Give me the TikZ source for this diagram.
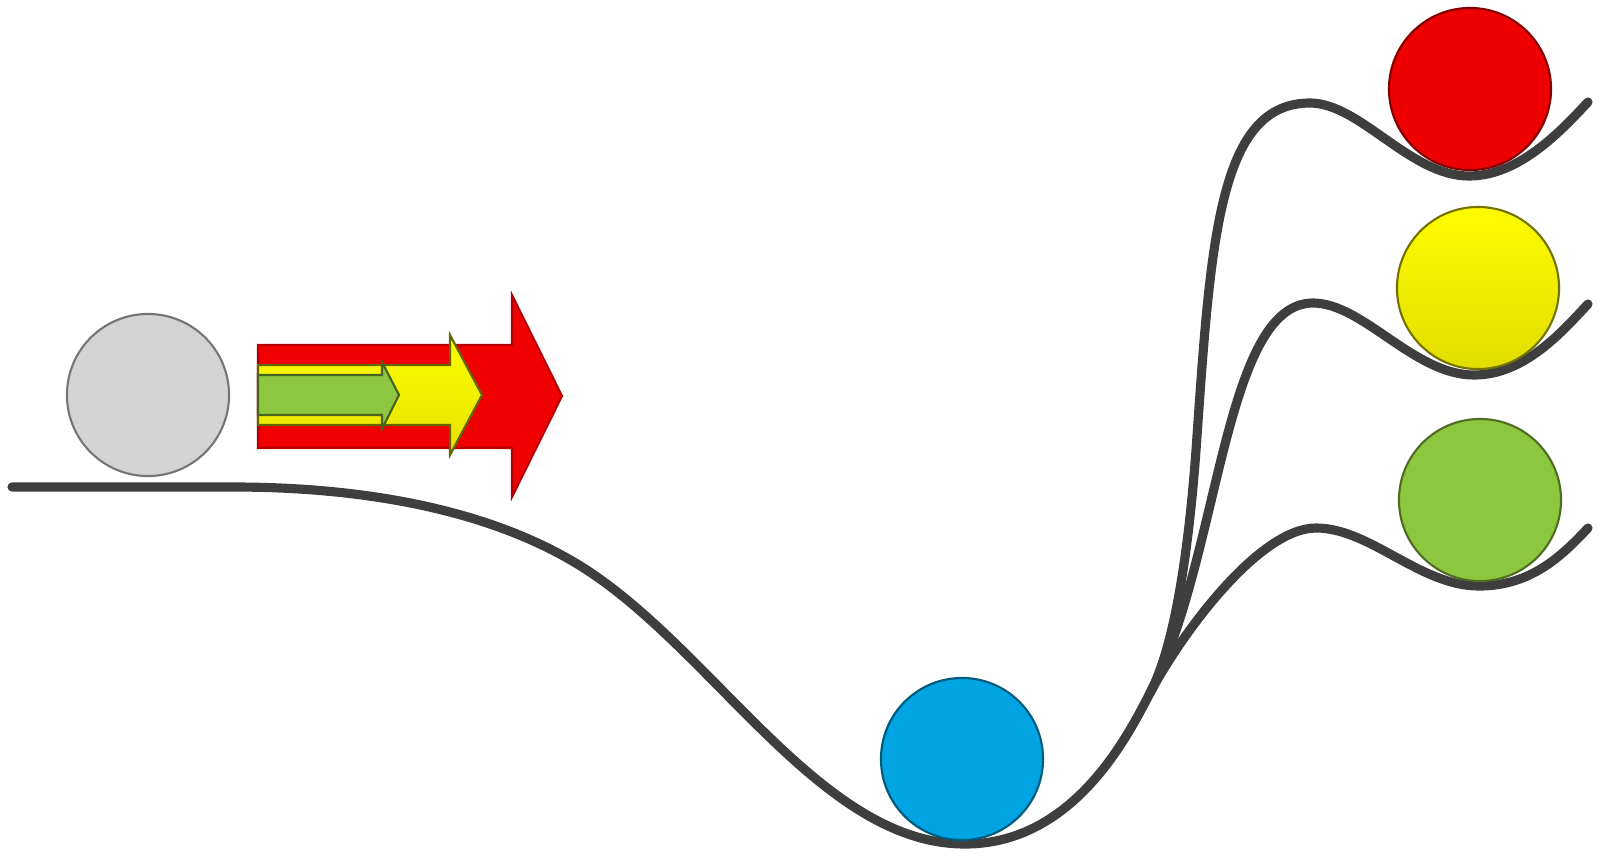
\documentclass[tikz,border=0pt]{standalone}
\definecolor{trackgray}{RGB}{62,62,62}
\definecolor{ballgray}{RGB}{212,212,212}
\definecolor{ballblue}{RGB}{0,164,226}
\definecolor{ballred}{RGB}{238,0,0}
\definecolor{ballyellow}{RGB}{255,252,0}
\definecolor{ballgreen}{RGB}{141,198,63}
\definecolor{arrred}{RGB}{240,0,0}

\begin{document}
\begin{tikzpicture}[x=0.01cm,y=0.01cm,
ball/.style={circle,fill=#1,draw=#1!55!black,line width=.6pt,minimum size=1.62cm,inner sep=0pt},
track/.style={draw=trackgray,line width=2.6pt,line cap=round,line join=round},
arrowbody/.style={line width=.6pt,line join=miter}]
\useasboundingbox (0,0) rectangle (1599,856);

\coordinate (junction) at (1150,163);
\draw[track] (12,369) -- (233,369) .. controls (363,369) and (480,347) .. (567,298)
 .. controls (707,220) and (815,12) .. (965,12)
 .. controls (1075,12) and (1129,123) .. (junction);
\draw[track] (junction) .. controls (1178,216) and (1191,330) .. (1197,420)
 .. controls (1211,620) and (1220,753) .. (1310,753)
 .. controls (1360,753) and (1410,680) .. (1469,680)
 .. controls (1519,680) and (1561,725) .. (1588,754);
\draw[track] (junction) .. controls (1220,296) and (1223,553) .. (1313,553)
 .. controls (1363,553) and (1414,481) .. (1474,481)
 .. controls (1524,481) and (1561,523) .. (1588,552);
\draw[track] (junction) .. controls (1183,225) and (1260,328) .. (1316,328)
 .. controls (1370,328) and (1420,270) .. (1479,270)
 .. controls (1530,270) and (1561,299) .. (1588,328);

\node[ball=ballgray] (start) at (148,461) {};
\node[ball=ballblue] (valley) at (962,97) {};
\node[ball=ballred] (high) at (1470,767) {};
\node[ball=ballyellow,top color=ballyellow,bottom color=ballyellow!88!black,draw=ballyellow!45!black] (mid) at (1478,568) {};
\node[ball=ballgreen] (low) at (1480,356) {};

\draw[arrowbody,fill=arrred,draw=arrred!75!black] (258,511) -- (512,511) -- (512,561) -- (562,460) -- (512,359) -- (512,408) -- (258,408) -- cycle;
\draw[arrowbody,top color=ballyellow,bottom color=ballyellow!90!black,draw=ballyellow!40!black] (258,491) -- (450,491) -- (450,521) -- (482,461) -- (450,401) -- (450,431) -- (258,431) -- cycle;
\draw[arrowbody,fill=ballgreen,draw=ballgreen!50!black] (258,481) -- (382,481) -- (382,494) -- (399,461) -- (382,427) -- (382,441) -- (258,441) -- cycle;
\end{tikzpicture}
\end{document}
